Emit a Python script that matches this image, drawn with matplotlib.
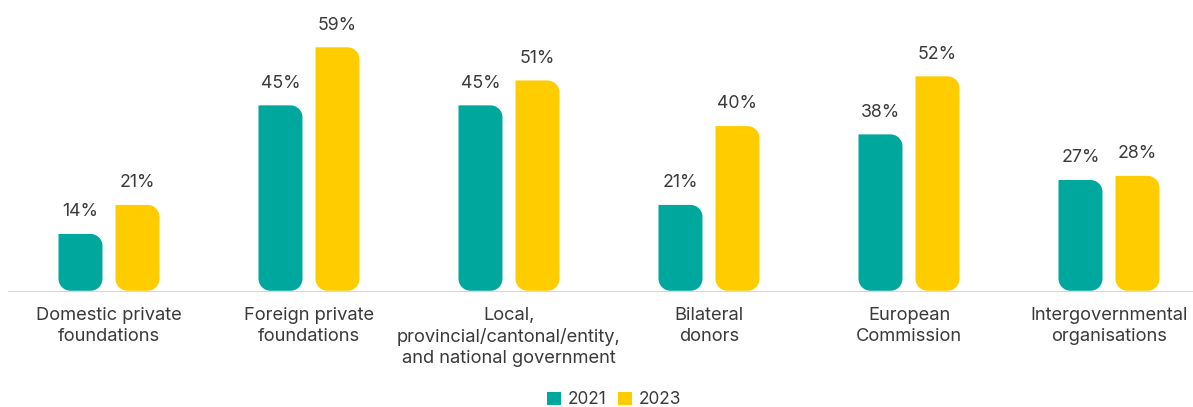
import numpy as np
import matplotlib
matplotlib.use("Agg")
import matplotlib.pyplot as plt
from matplotlib.path import Path
from matplotlib.patches import PathPatch, Patch

# data
categories = ["Domestic private\nfoundations",
              "Foreign private\nfoundations",
              "Local,\nprovincial/cantonal/entity,\nand national government",
              "Bilateral\ndonors",
              "European\nCommission",
              "Intergovernmental\norganisations"]
vals_2021 = [14, 45, 45, 21, 38, 27]
vals_2023 = [21, 59, 51, 40, 52, 28]
years = ["2021", "2023"]
colors = ["#00A79D", "#FFCC00"]

plt.rcParams['font.family'] = ['Inter', 'DejaVu Sans']

fig = plt.figure(figsize=(11.93, 4.07), dpi=100)
ax = fig.add_axes([8 / 1193, 115 / 407, 1 - 8 / 1193, 292 / 407])
ax.set_xlim(-0.505, 5.42)
ax.set_ylim(0, 70.4)
for s in ax.spines.values():
    s.set_visible(False)
ax.axhline(0, color="#d0d0d0", lw=1.2, zorder=1)
ax.set_xticks([])
ax.set_yticks([])

# radius of the rounded corners, pixels -> data units
r_px = 12
rx = r_px * (ax.get_xlim()[1] - ax.get_xlim()[0]) / (1185)
ry = r_px * (ax.get_ylim()[1] - ax.get_ylim()[0]) / (292)


def arc(cx, cy, a0, a1, n=12):
    t = np.linspace(np.radians(a0), np.radians(a1), n)
    return list(zip(cx + rx * np.cos(t), cy + ry * np.sin(t)))


def rounded_bar(x0, w, h, y0=0.3):
    # top-left square, other corners rounded
    x1 = x0 + w
    y1 = y0 + h
    pts = [(x0, y1)]
    pts += arc(x1 - rx, y1 - ry, 90, 0)
    pts += arc(x1 - rx, y0 + ry, 0, -90)
    pts += arc(x0 + rx, y0 + ry, -90, -180)
    pts.append((x0, y1))
    return Path(pts, closed=True)


x = np.arange(len(categories))
width = 0.22
offs = [-0.1425, 0.1425]
for vals, off, c in zip([vals_2021, vals_2023], offs, colors):
    for xi, v in zip(x, vals):
        p = rounded_bar(xi + off - width / 2, width, v - 0.3)
        ax.add_patch(PathPatch(p, facecolor=c, edgecolor="none", zorder=2))
        ax.text(xi + off, v + 3.3, f"{v}%", ha="center", va="bottom",
                fontsize=12.8, color="#3a3a3a")

for xi, lab in zip(x, categories):
    ax.text(xi, -3.6, lab, ha="center", va="top", fontsize=13.2,
            color="#3a3a3a", linespacing=1.3)

handles = [Patch(facecolor=c, label=y) for c, y in zip(colors, years)]
fig.legend(handles=handles, loc="center", bbox_to_anchor=(614 / 1193, 1 - 400 / 407),
           ncol=2, frameon=False, fontsize=12.4, handlelength=0.8, handleheight=0.8,
           handletextpad=0.4, columnspacing=0.7, labelcolor="#3a3a3a")

fig.savefig("out.png", dpi=100)
